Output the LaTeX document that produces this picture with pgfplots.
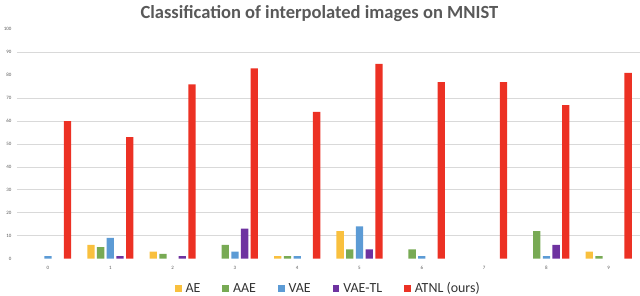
\documentclass[border=0pt]{standalone}
\usepackage{pgfplots}
\pgfplotsset{compat=1.18}
\usepackage{fontspec}
\setmainfont{Carlito}
\definecolor{cAE}{RGB}{249,192,62}
\definecolor{cAAE}{RGB}{120,170,84}
\definecolor{cVAE}{RGB}{92,155,213}
\definecolor{cVTL}{RGB}{110,50,160}
\definecolor{cATNL}{RGB}{236,49,36}
\definecolor{gridc}{RGB}{217,217,217}
\definecolor{tickc}{RGB}{89,89,89}
\definecolor{titlec}{RGB}{89,89,89}
\newcommand\lf{\fontsize{14}{16}\selectfont}
\begin{document}
\begin{tikzpicture}
\useasboundingbox (-16.85bp,-37.5bp) rectangle (623.15bp,258.5bp);
\begin{axis}[
  scale only axis,
  width=623bp, height=229.1bp,
  xmin=-0.5, xmax=9.5, ymin=0, ymax=100,
  axis line style={draw=none},
  major tick length=0pt,
  xtick={0,...,9},
  ytick={0,10,...,100},
  extra y ticks={10,20,30,40,50,60,70,90},
  extra y tick labels={},
  extra y tick style={ymajorgrids=true, major grid style={gridc, line width=0.6pt}},
  /pgf/number format/assume math mode=true,
  ticklabel style={font=\fontsize{5}{6}\selectfont, text=tickc},
  yticklabel style={xshift=-2pt},
  xticklabel style={yshift=-4pt},
  ybar, bar width=7.3bp,
  every axis plot/.append style={draw=none},
  title={Classification of interpolated images on MNIST},
  title style={font=\fontsize{18.6}{22}\bfseries, text=titlec,
    at={(axis description cs:0.5,1)}, anchor=base, yshift=5bp, xshift=-9bp},
  legend columns=5,
  legend style={draw=none, fill=none, at={(axis description cs:0.5,-0.1305)}, anchor=center,
    font=\lf, text=black!80,
    /tikz/every even column/.append style={column sep=20pt},
    /tikz/every odd column/.append style={column sep=2pt}},
  legend image code/.code={\fill[#1] (0pt,-3.4pt) rectangle (6.7pt,3.4pt);},
]
\addplot[fill=cAE, bar shift=-19.4bp] coordinates {(1,6) (2,3) (4,1) (5,12) (9,3)};
\addlegendentry{\lf AE}
\addplot[fill=cAAE, bar shift=-9.7bp] coordinates {(1,5) (2,2) (3,6) (4,1) (5,4) (6,4) (8,12) (9,1)};
\addlegendentry{\lf AAE}
\addplot[fill=cVAE, bar shift=0bp] coordinates {(0,1) (1,9) (3,3) (4,1) (5,14) (6,1) (8,1)};
\addlegendentry{\lf VAE}
\addplot[fill=cVTL, bar shift=9.7bp] coordinates {(1,1) (2,1) (3,13) (5,4) (8,6)};
\addlegendentry{\lf VAE-TL}
\addplot[fill=cATNL, bar shift=19.4bp] coordinates {(0,60) (1,53) (2,76) (3,83) (4,64) (5,85) (6,77) (7,77) (8,67) (9,81)};
\addlegendentry{\lf ATNL (ours)}
\end{axis}
\end{tikzpicture}
\end{document}
